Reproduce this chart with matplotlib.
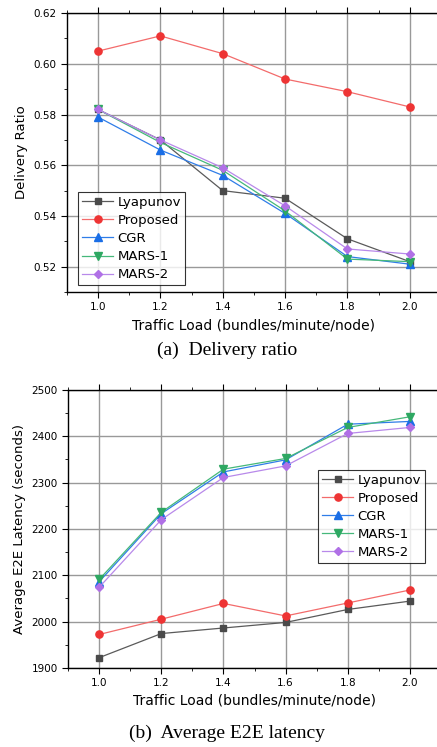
import numpy as np
import matplotlib
matplotlib.use('Agg')
import matplotlib.pyplot as plt
from matplotlib.ticker import MultipleLocator

# Data
load = [1.0, 1.2, 1.4, 1.6, 1.8, 2.0]
names = ['Lyapunov', 'Proposed', 'CGR', 'MARS-1', 'MARS-2']

ratio_lyapunov = [0.582, 0.570, 0.550, 0.547, 0.531, 0.522]
ratio_proposed = [0.605, 0.611, 0.604, 0.594, 0.589, 0.583]
ratio_cgr = [0.579, 0.566, 0.556, 0.541, 0.524, 0.521]
ratio_mars1 = [0.582, 0.569, 0.558, 0.542, 0.523, 0.522]
ratio_mars2 = [0.582, 0.570, 0.559, 0.544, 0.527, 0.525]

lat_lyapunov = [1922, 1974, 1986, 1998, 2026, 2044]
lat_proposed = [1972, 2005, 2039, 2012, 2040, 2068]
lat_cgr = [2086, 2233, 2323, 2349, 2426, 2432]
lat_mars1 = [2091, 2236, 2329, 2352, 2419, 2442]
lat_mars2 = [2074, 2220, 2311, 2336, 2406, 2419]

# Styles
line_colors = ['#5a5a5a', '#f36b6b', '#2f7de8', '#45b87a', '#b889ea']
marker_colors = ['#4a4a4a', '#ee3434', '#1a6ee6', '#2ea862', '#b070e6']
markers = ['s', 'o', '^', 'v', 'D']
msizes = [4.3, 5.2, 5.2, 5.2, 4.3]

plt.rcParams['font.family'] = ['DejaVu Sans']

fig = plt.figure(figsize=(4.37, 7.47), dpi=100)
ax1 = fig.add_axes([0.153, 0.609, 0.856, 0.3735])
ax2 = fig.add_axes([0.156, 0.106, 0.853, 0.372])


def draw(ax, series):
    for i, ys in enumerate(series):
        ax.plot(load, ys, color=line_colors[i], lw=0.9, marker=markers[i],
                ms=msizes[i], mfc=marker_colors[i], mec=marker_colors[i],
                label=names[i], zorder=3)
    ax.set_xlim(0.9, 2.1)
    ax.xaxis.set_major_locator(MultipleLocator(0.2))
    ax.xaxis.set_minor_locator(MultipleLocator(0.1))
    ax.grid(True, which='major', color='#999999', lw=1.0, zorder=0)
    ax.tick_params(which='both', direction='out', labelsize=7.5, top=True, right=True, labeltop=False)
    ax.tick_params(which='major', length=4)
    ax.tick_params(which='minor', length=2.5)
    ax.set_xlabel('Traffic Load (bundles/minute/node)', fontsize=10)
    for s in ax.spines.values():
        s.set_linewidth(1.0)


def add_legend(ax, loc, anchor):
    leg = ax.legend(loc=loc, bbox_to_anchor=anchor, fontsize=9.5,
                    frameon=True, fancybox=False, edgecolor='black',
                    handlelength=2.4, handletextpad=0.3, labelspacing=0.38,
                    borderpad=0.3, borderaxespad=0)
    leg.get_frame().set_linewidth(0.8)


draw(ax1, [ratio_lyapunov, ratio_proposed, ratio_cgr, ratio_mars1, ratio_mars2])
ax1.set_ylim(0.51, 0.62)
ax1.yaxis.set_major_locator(MultipleLocator(0.02))
ax1.yaxis.set_minor_locator(MultipleLocator(0.01))
ax1.yaxis.set_major_formatter(plt.FormatStrFormatter('%.2f'))
ax1.set_ylabel('Delivery Ratio', fontsize=9.5)
add_legend(ax1, 'lower left', (0.029, 0.025))

draw(ax2, [lat_lyapunov, lat_proposed, lat_cgr, lat_mars1, lat_mars2])
ax2.set_ylim(1900, 2500)
ax2.yaxis.set_major_locator(MultipleLocator(100))
ax2.yaxis.set_minor_locator(MultipleLocator(50))
ax2.set_ylabel('Average E2E Latency (seconds)', fontsize=9.5)
add_legend(ax2, 'upper right', (0.957, 0.712))

fig.text(0.52, 1 - 350 / 747, '(a)  Delivery ratio', ha='center', va='center',
         fontsize=14, family='Liberation Serif')
fig.text(0.52, 1 - 733 / 747, '(b)  Average E2E latency', ha='center', va='center',
         fontsize=14, family='Liberation Serif')

fig.savefig('out.png', dpi=100)
